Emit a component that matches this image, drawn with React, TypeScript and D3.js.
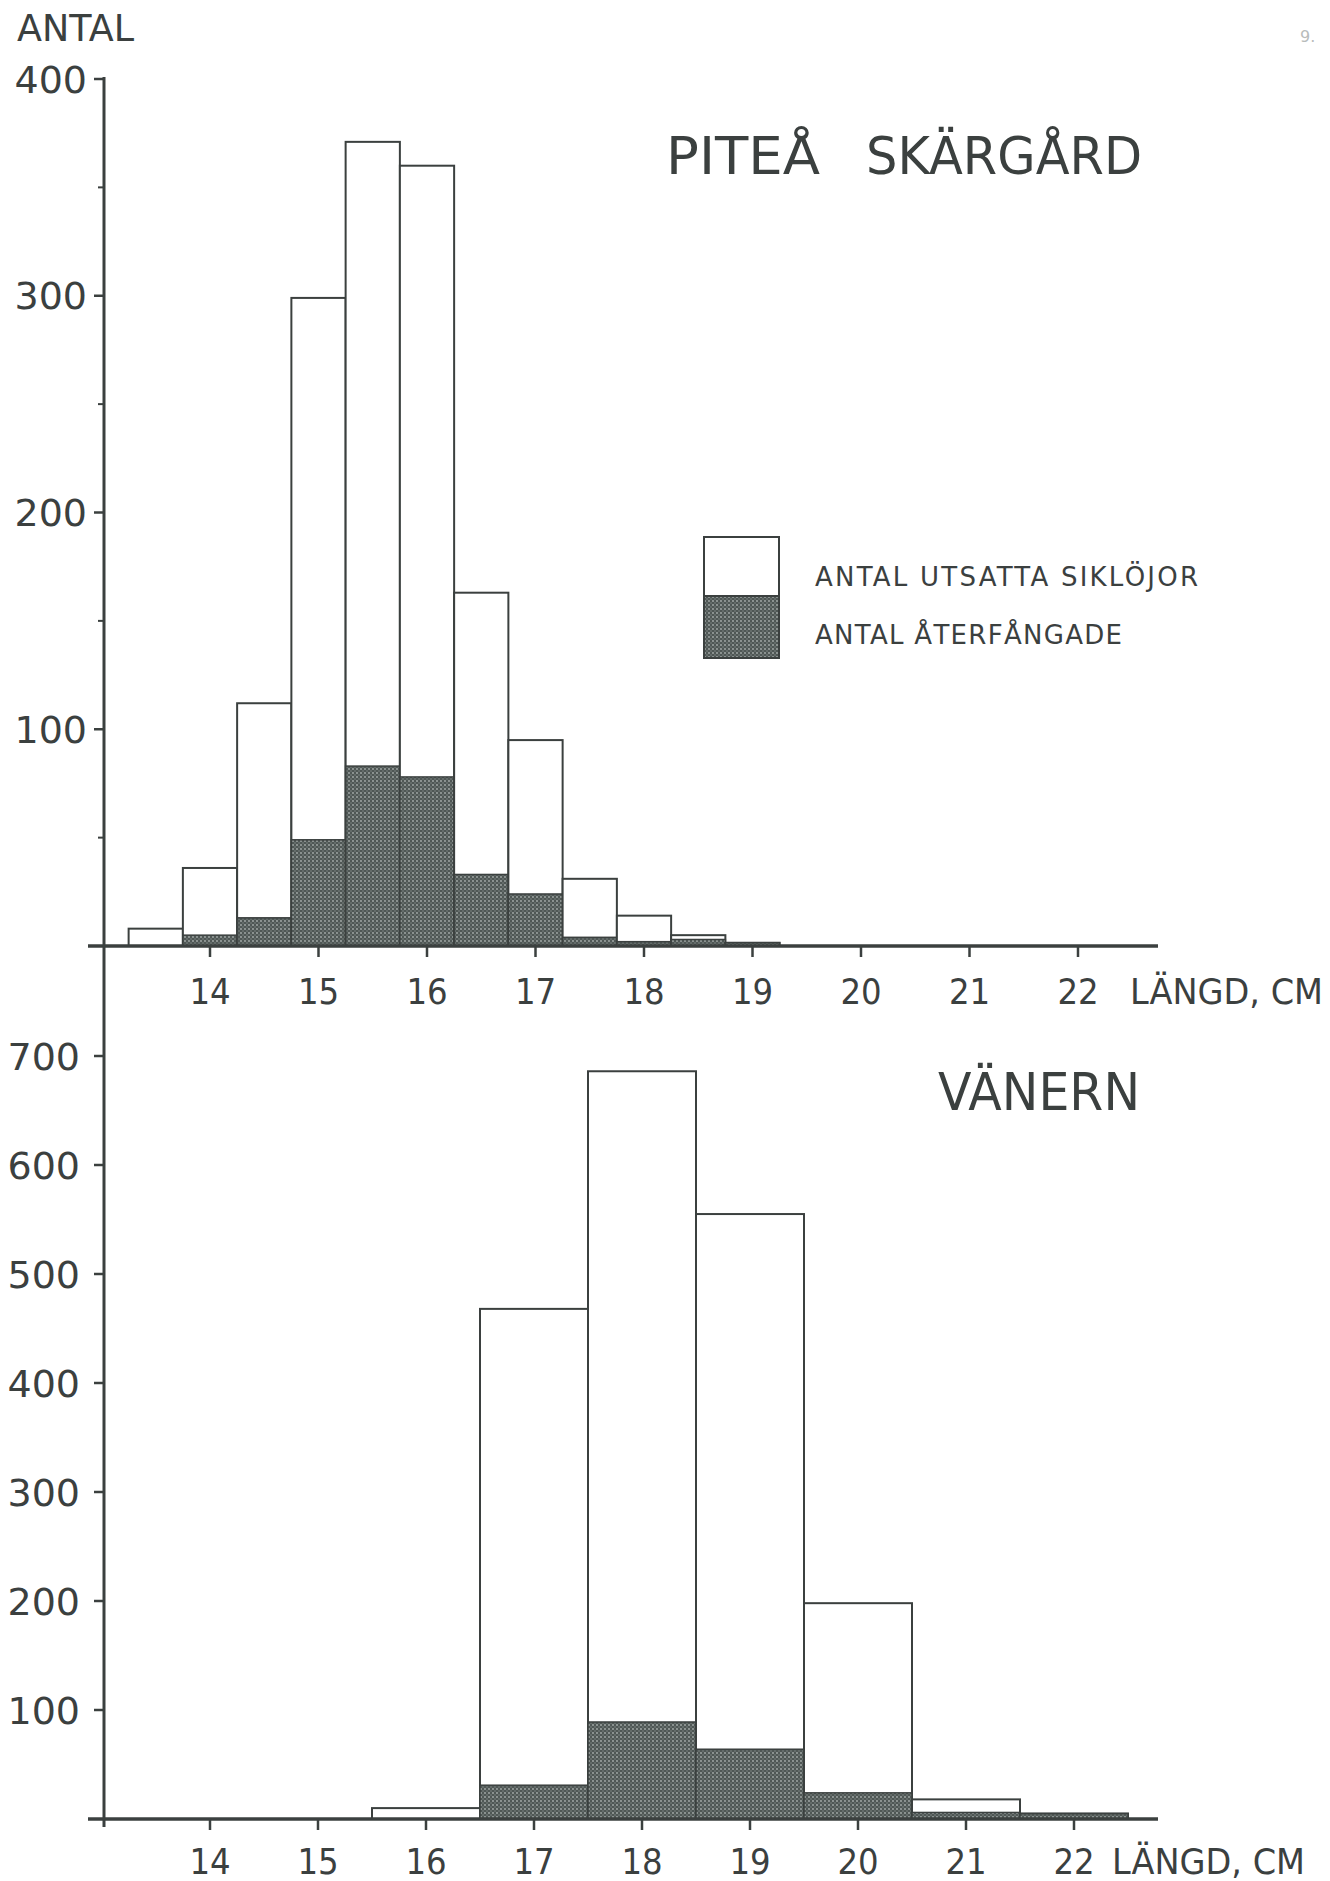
import React from 'react';
import * as d3 from 'd3';

// Piteå skärgård: half-cm length classes
const piteaCenters = [13.5, 14, 14.5, 15, 15.5, 16, 16.5, 17, 17.5, 18, 18.5, 19];
const piteaReleased = [8, 36, 112, 299, 371, 360, 163, 95, 31, 14, 5, 1.5];
const piteaRecaptured = [0, 5, 13, 49, 83, 78, 33, 24, 4, 2, 3, 1.5];

// Vänern: whole-cm length classes
const vanernCenters = [16, 17, 18, 19, 20, 21, 22];
const vanernReleased = [10, 468, 686, 555, 198, 18, 5];
const vanernRecaptured = [0, 31, 89, 64, 24, 6, 5];

const xTicks = [14, 15, 16, 17, 18, 19, 20, 21, 22];
const piteaYTicks = [100, 200, 300, 400];
const piteaMinorTicks = [50, 150, 250, 350];
const vanernYTicks = [100, 200, 300, 400, 500, 600, 700];

const legendLabels = ['ANTAL  UTSATTA  SIKLÖJOR', 'ANTAL  ÅTERFÅNGADE'];

const ink = '#3b403f';
const font = '"DejaVu Sans", sans-serif';
const condensed = '"DejaVu Sans Condensed", "DejaVu Sans", sans-serif';

function Histogram({ centers, released, recaptured, binWidth, xScale, yScale }) {
    const base = yScale(0);
    return (
        <g>
            {centers.map((c, i) => {
                const x0 = xScale(c - binWidth / 2);
                const x1 = xScale(c + binWidth / 2);
                const yTot = yScale(released[i]);
                const yRec = yScale(recaptured[i]);
                return (
                    <g key={c}>
                        <rect x={x0} y={yTot} width={x1 - x0} height={base - yTot}
                            fill="#fff" stroke={ink} strokeWidth={2} />
                        {recaptured[i] > 0 && (
                            <rect x={x0} y={yRec} width={x1 - x0} height={base - yRec}
                                fill="url(#dots)" stroke={ink} strokeWidth={1.5} />
                        )}
                    </g>
                );
            })}
        </g>
    );
}

function XAxis({ xScale, y, labelY, unitX }) {
    return (
        <g>
            <line x1={88} x2={1158} y1={y} y2={y} stroke={ink} strokeWidth={3.5} />
            {xTicks.map(t => (
                <g key={t}>
                    <line x1={xScale(t)} x2={xScale(t)} y1={y} y2={y + 11} stroke={ink} strokeWidth={2.5} />
                    <text x={xScale(t)} y={labelY} textAnchor="middle" fontFamily={condensed}
                        fontSize={36} fill={ink}>{t}</text>
                </g>
            ))}
            <text x={unitX} y={labelY} fontFamily={condensed} fontSize={36} fill={ink}
                textLength={193} lengthAdjust="spacingAndGlyphs">LÄNGD, CM</text>
        </g>
    );
}

function YTicks({ yScale, ticks, minor = [], labelX, axisX, size }) {
    return (
        <g>
            {ticks.map(t => (
                <g key={t}>
                    <line x1={axisX - 10} x2={axisX} y1={yScale(t)} y2={yScale(t)} stroke={ink} strokeWidth={2.5} />
                    <text x={labelX} y={yScale(t)} dy="0.36em" textAnchor="end" fontFamily={font}
                        fontSize={size} fill={ink}>{t}</text>
                </g>
            ))}
            {minor.map(t => (
                <line key={t} x1={axisX - 6} x2={axisX} y1={yScale(t)} y2={yScale(t)} stroke={ink} strokeWidth={2} />
            ))}
        </g>
    );
}

export default function App() {
    const width = 1330;
    const height = 1881;
    const axisX = 104;

    const xTop = d3.scaleLinear([14, 22], [210, 1078]);
    const yTop = d3.scaleLinear([0, 400], [946, 79]);
    const xBot = d3.scaleLinear([14, 22], [210, 1074]);
    const yBot = d3.scaleLinear([0, 700], [1819, 1056]);

    return (
        <div style={{ position: 'absolute', left: 0, top: 0 }}>
            <svg width={width} height={height} viewBox={`0 0 ${width} ${height}`} style={{ display: 'block', background: '#fff' }}>
                <defs>
                    <pattern id="dots" width={4} height={4} patternUnits="userSpaceOnUse">
                        <rect width={4} height={4} fill="#4f5755" />
                        <circle cx={1} cy={1} r={0.9} fill="#a7adab" />
                        <circle cx={3} cy={3} r={0.7} fill="#8a908e" />
                    </pattern>
                </defs>

                <text x={17} y={41} fontFamily={font} fontSize={37} fill={ink}
                    textLength={117} lengthAdjust="spacingAndGlyphs">ANTAL</text>
                <text x={1300} y={42} fontFamily={font} fontSize={16} fill="#b8bcbb">9.</text>

                {/* upper panel */}
                <Histogram centers={piteaCenters} released={piteaReleased} recaptured={piteaRecaptured}
                    binWidth={0.5} xScale={xTop} yScale={yTop} />
                <XAxis xScale={xTop} y={yTop(0)} labelY={1004} unitX={1130} />
                <YTicks yScale={yTop} ticks={piteaYTicks} minor={piteaMinorTicks} labelX={87} axisX={axisX} size={38} />
                <text y={174} fontFamily={font} fontSize={52} fill={ink}>
                    <tspan x={666} textLength={154} lengthAdjust="spacingAndGlyphs">PITEÅ</tspan>
                    <tspan x={866} textLength={276} lengthAdjust="spacingAndGlyphs">SKÄRGÅRD</tspan>
                </text>

                {/* legend */}
                <rect x={704} y={537} width={75} height={59} fill="#fff" stroke={ink} strokeWidth={2} />
                <rect x={704} y={596} width={75} height={62} fill="url(#dots)" stroke={ink} strokeWidth={2} />
                <text x={815} y={586} fontFamily={font} fontSize={26} fill={ink}
                    textLength={383} lengthAdjust="spacing">{legendLabels[0]}</text>
                <text x={815} y={644} fontFamily={font} fontSize={26} fill={ink}
                    textLength={307} lengthAdjust="spacing">{legendLabels[1]}</text>

                {/* lower panel */}
                <Histogram centers={vanernCenters} released={vanernReleased} recaptured={vanernRecaptured}
                    binWidth={1} xScale={xBot} yScale={yBot} />
                <XAxis xScale={xBot} y={yBot(0)} labelY={1874} unitX={1112} />
                <YTicks yScale={yBot} ticks={vanernYTicks} labelX={80} axisX={axisX} size={38} />
                <text x={938} y={1110} fontFamily={font} fontSize={52} fill={ink}
                    textLength={202} lengthAdjust="spacingAndGlyphs">VÄNERN</text>

                {/* shared vertical axis */}
                <line x1={axisX} x2={axisX} y1={yTop(400) - 2} y2={yBot(0) + 8} stroke={ink} strokeWidth={3} />
            </svg>
        </div>
    );
}
